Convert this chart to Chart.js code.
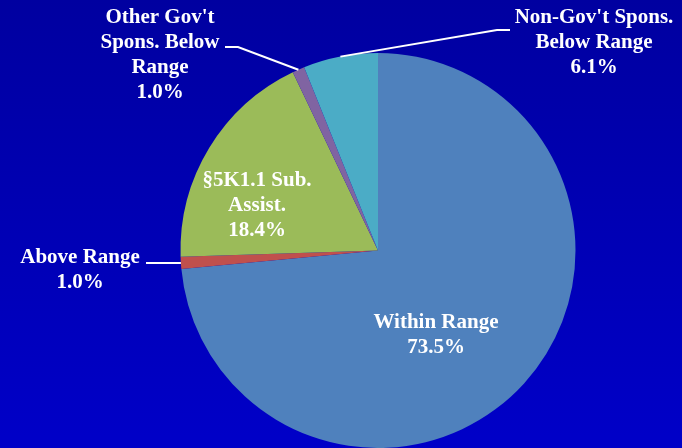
<!DOCTYPE html>
<html>
<head>
<meta charset="utf-8">
<script src="https://cdn.jsdelivr.net/npm/chart.js@4.4.1/dist/chart.umd.min.js"></script>
<style>
  html, body { margin: 0; padding: 0; }
  body { width: 682px; height: 448px; background: linear-gradient(to bottom, #0000a0, #0000c8); overflow: hidden; }
  #wrap { width: 682px; height: 448px; position: relative; }
</style>
</head>
<body>
<div id="wrap"><canvas id="c"></canvas></div>
<script>
const categories = ['Within Range', 'Above Range', '§5K1.1 Sub. Assist.', "Other Gov't Spons. Below Range", "Non-Gov't Spons. Below Range"];
const shares = [73.5, 1.0, 18.4, 1.0, 6.1];
const colors = ['#4f81bd', '#c0504d', '#9bbb59', '#8064a2', '#4bacc6'];

// label layout: text lines, label centre, and optional leader (elbow point + horizontal stub end)
const labelLayout = [
  { lines: ['Within Range'], x: 436, y: 323, inside: true },
  { lines: ['Above Range'], x: 80, y: 258, stub: [146, 263], elbow: [160, 263] },
  { lines: ['§5K1.1 Sub.', 'Assist.'], x: 257, y: 181, inside: true },
  { lines: ["Other Gov't", 'Spons. Below', 'Range'], x: 160, y: 18, stub: [225, 47], elbow: [238, 47] },
  { lines: ["Non-Gov't Spons.", 'Below Range'], x: 594, y: 18, stub: [510, 30], elbow: [497, 30] },
];

const labels = {
  id: 'labels',
  afterDatasetsDraw(chart) {
    const ctx = chart.ctx;
    const meta = chart.getDatasetMeta(0);
    ctx.save();
    ctx.fillStyle = '#fff';
    ctx.strokeStyle = '#fff';
    ctx.font = 'bold 21px "Liberation Serif", "Times New Roman", serif';
    ctx.textAlign = 'center';
    ctx.textBaseline = 'middle';
    meta.data.forEach((arc, i) => {
      const L = labelLayout[i];
      const lines = L.lines.concat(shares[i].toFixed(1) + '%');
      lines.forEach((t, k) => ctx.fillText(t, L.x, L.y + k * 25));
      if (L.stub) {
        const p = arc.getProps(['x', 'y', 'startAngle', 'endAngle', 'outerRadius'], true);
        const a = (p.startAngle + p.endAngle) / 2;
        const ex = p.x + Math.cos(a) * p.outerRadius;
        const ey = p.y + Math.sin(a) * p.outerRadius;
        ctx.lineWidth = 2;
        ctx.beginPath();
        ctx.moveTo(L.stub[0], L.stub[1]);
        ctx.lineTo(L.elbow[0], L.elbow[1]);
        ctx.lineTo(ex, ey);
        ctx.stroke();
      }
    });
    ctx.restore();
  }
};

new Chart(document.getElementById('c'), {
  type: 'pie',
  data: {
    labels: categories,
    datasets: [{ data: shares, backgroundColor: colors, borderWidth: 0 }]
  },
  options: {
    responsive: true,
    maintainAspectRatio: false,
    animation: false,
    layout: { padding: { left: 180, right: 106, top: 53, bottom: 0 } },
    plugins: { legend: { display: false }, tooltip: { enabled: false } }
  },
  plugins: [labels]
});
</script>
</body>
</html>
